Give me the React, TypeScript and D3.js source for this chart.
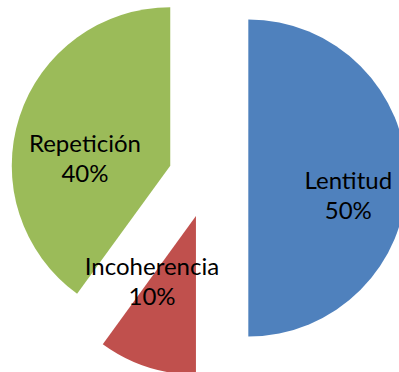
import React from "react";
import * as d3 from "d3";

// Slice data
const categories = ["Lentitud", "Incoherencia", "Repetición"];
const values = [50, 10, 40];
const percentLabels = ["50%", "10%", "40%"];

const colors = ["#4F81BD", "#C0504D", "#9BBB59"];

const WIDTH = 399;
const HEIGHT = 372;
const CX = 208.3;
const CY = 178;
const RADIUS = 158.5;
const EXPLODE = 40;
const LABEL_RADIUS = 95;
// small placement tweaks for each label block
const labelNudge: [number, number][] = [
  [5, 15.5],
  [-14.6, -26],
  [5, 20.7],
];

export default function App() {
  const pie = d3
    .pie<number>()
    .sort(null)
    .value((d) => d);
  const arcs = pie(values);
  const arcGen = d3
    .arc<d3.PieArcDatum<number>>()
    .innerRadius(0)
    .outerRadius(RADIUS);

  return (
    <svg
      width={WIDTH}
      height={HEIGHT}
      style={{ position: "absolute", left: 0, top: 0, background: "#fff" }}
      fontFamily="Lato, 'Open Sans', sans-serif"
    >
      <g transform={`translate(${CX},${CY})`}>
        {arcs.map((a, i) => {
          const mid = (a.startAngle + a.endAngle) / 2;
          const ox = EXPLODE * Math.sin(mid);
          const oy = -EXPLODE * Math.cos(mid);
          return (
            <path
              key={categories[i]}
              d={arcGen(a) || ""}
              transform={`translate(${ox},${oy})`}
              fill={colors[i]}
            />
          );
        })}
        {arcs.map((a, i) => {
          const mid = (a.startAngle + a.endAngle) / 2;
          const r = EXPLODE + LABEL_RADIUS;
          const x = r * Math.sin(mid) + labelNudge[i][0];
          const y = -r * Math.cos(mid) + labelNudge[i][1];
          return (
            <text
              key={`l-${categories[i]}`}
              x={x}
              y={y}
              textAnchor="middle"
              fontSize={24}
              fill="#000"
            >
              <tspan x={x} dy={-5}>
                {categories[i]}
              </tspan>
              <tspan x={x} dy={30}>
                {percentLabels[i]}
              </tspan>
            </text>
          );
        })}
      </g>
    </svg>
  );
}
